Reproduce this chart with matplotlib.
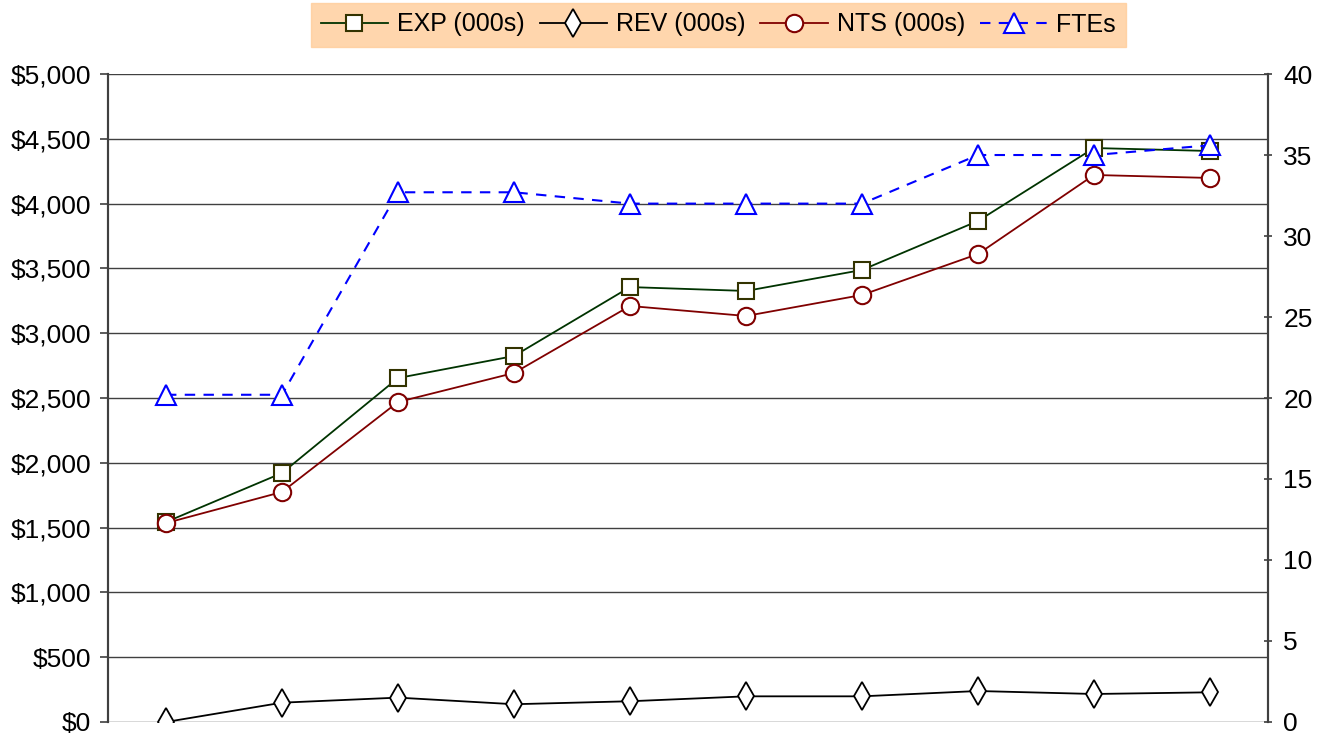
import matplotlib.pyplot as plt
from matplotlib.ticker import FuncFormatter, MultipleLocator

plt.rcParams['font.family'] = ['Liberation Sans', 'DejaVu Sans']

periods = list(range(10))
exp = [1543, 1921, 2654, 2824, 3356, 3326, 3488, 3866, 4429, 4406]
rev = [0, 149, 188, 137, 160, 198, 198, 239, 216, 229]
nts = [1535, 1775, 2469, 2693, 3210, 3133, 3295, 3611, 4221, 4198]
ftes = [20.2, 20.2, 32.7, 32.7, 32.0, 32.0, 32.0, 35.0, 35.0, 35.6]

fig = plt.figure(figsize=(13.35, 7.38), dpi=100)
ax = fig.add_axes([0.0809, 0.0217, 0.8689, 0.878])
ax2 = ax.twinx()

l1, = ax.plot(periods, exp, color='#003300', lw=1.3, marker='s', ms=12,
              mfc='white', mec='#333300', mew=1.5, label='EXP (000s)')
l2, = ax.plot(periods, rev, color='black', lw=1.3, marker='d', ms=14,
              mfc='white', mec='black', mew=1.3, label='REV (000s)')
l3, = ax.plot(periods, nts, color='#800000', lw=1.3, marker='o', ms=12.5,
              mfc='white', mec='#800000', mew=1.5, label='NTS (000s)')
l4, = ax2.plot(periods, ftes, color='#0000FF', lw=1.5, ls=(0, (5, 4)), marker='^', ms=14,
               mfc='white', mec='#0000FF', mew=1.5, label='FTEs')

ax.set_xlim(-0.5, 9.5)
ax.set_ylim(0, 5000)
ax2.set_ylim(0, 40)
ax.yaxis.set_major_locator(MultipleLocator(500))
ax.yaxis.set_major_formatter(FuncFormatter(lambda v, p: '${:,.0f}'.format(v)))
ax2.yaxis.set_major_locator(MultipleLocator(5))
ax.grid(axis='y', color='#404040', lw=1)
ax.set_xticks([])

for a in (ax, ax2):
    a.spines['top'].set_visible(False)
    for s in a.spines.values():
        s.set_color('#404040')
        s.set_linewidth(1.5)
ax.spines['bottom'].set_visible(False)
ax2.spines['bottom'].set_visible(False)
ax.tick_params(axis='y', labelsize=19, length=6, width=1.2, color='#404040', pad=6)
ax2.tick_params(axis='y', labelsize=19, length=6, width=1.2, color='#404040', direction='inout', pad=8)

leg = fig.legend(handles=[l1, l2, l3, l4], loc='upper center', bbox_to_anchor=(0.538, 1.0),
                 ncol=4, fontsize=18, frameon=True, fancybox=False, facecolor='#FFCC99',
                 edgecolor='#FFCC99', handlelength=2.7, handletextpad=0.35, columnspacing=0.6,
                 borderpad=0.4, borderaxespad=0.1)

fig.savefig('out.png', dpi=100)
